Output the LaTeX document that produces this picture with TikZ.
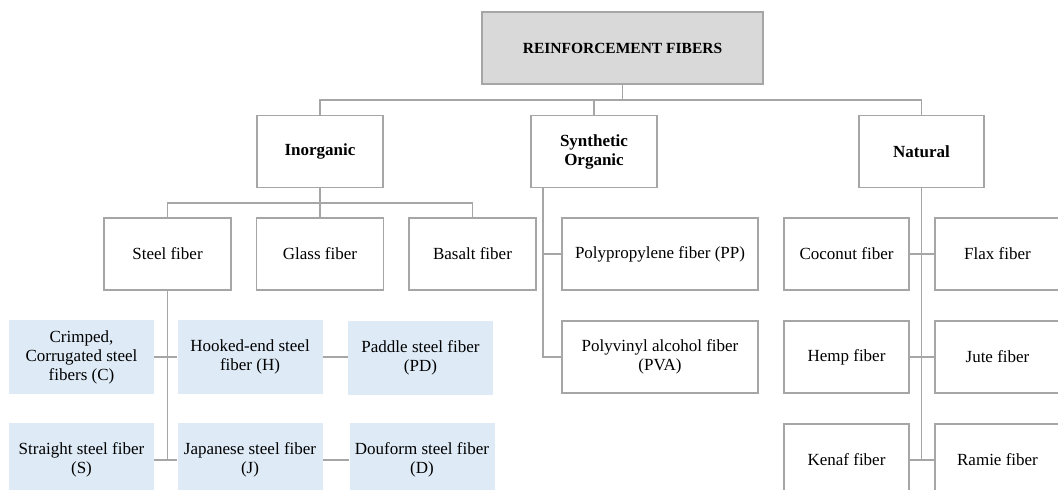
\documentclass[tikz,border=0pt]{standalone}
\usepackage{fontspec}
\setmainfont{Liberation Serif}
\definecolor{lineg}{HTML}{A6A6A6}
\definecolor{rootfill}{HTML}{D9D9D9}
\definecolor{bluefill}{HTML}{DEEBF7}
\begin{document}
\begin{tikzpicture}[x=1pt,y=-1pt,
  box/.style={draw=lineg,line width=1.3pt,fill=white,minimum height=72pt,inner sep=2pt,align=center,font=\fontsize{17}{19}\selectfont},
  catbox/.style={box,font=\fontsize{17}{19}\selectfont\bfseries},
  rootbox/.style={box,fill=rootfill,font=\fontsize{15.5}{18}\selectfont\bfseries},
  bluebox/.style={draw=none,fill=bluefill,minimum width=145pt,minimum height=74pt,inner sep=2pt,align=center,font=\fontsize{17}{19}\selectfont},
  conn/.style={draw=lineg,line width=1.3pt}]
\useasboundingbox (0,0) rectangle (1058,490);
% nodes
\node[rootbox,minimum width=281pt] (root) at (622.5,48) {REINFORCEMENT FIBERS};
\node[catbox,minimum width=126pt] (inorg) at (320,151.5) {Inorganic};
\node[catbox,minimum width=126pt] (synth) at (594,151.5) {Synthetic\\Organic};
\node[catbox,minimum width=125pt] (nat) at (921.5,151.5) {Natural};
\node[box,minimum width=127pt] (steel) at (167.5,254) {Steel fiber};
\node[box,minimum width=127pt] (glass) at (320,254) {Glass fiber};
\node[box,minimum width=127pt] (basalt) at (472.5,254) {Basalt fiber};
\node[box,minimum width=196pt] (pp) at (660,254) {Polypropylene fiber (PP)};
\node[box,minimum width=196pt] (pva) at (660,357) {Polyvinyl alcohol fiber\\(PVA)};
\node[box,minimum width=125pt] (coco) at (846.5,254) {Coconut fiber};
\node[box,minimum width=125pt] (flax) at (997.5,254) {Flax fiber};
\node[box,minimum width=125pt] (hemp) at (846.5,357) {Hemp fiber};
\node[box,minimum width=125pt] (jute) at (997.5,357) {Jute fiber};
\node[box,minimum width=125pt] (kenaf) at (846.5,460) {Kenaf fiber};
\node[box,minimum width=125pt] (ramie) at (997.5,460) {Ramie fiber};
\node[bluebox] (crimp) at (81.5,357) {Crimped,\\Corrugated steel\\fibers (C)};
\node[bluebox] (hook) at (250,357) {Hooked-end steel\\fiber (H)};
\node[bluebox] (paddle) at (420.5,358) {Paddle steel fiber\\(PD)};
\node[bluebox] (straight) at (81.5,460) {Straight steel fiber\\(S)};
\node[bluebox] (jap) at (250,460) {Japanese steel fiber\\(J)};
\node[bluebox] (douf) at (422,460) {Douform steel fiber\\(D)};
% coordinates
\coordinate (rbus) at (622.5,100);
\coordinate (ibus) at (320,203);
\coordinate (sx) at (543,187);
\coordinate (send) at (543,357);
\coordinate (nend) at (921.5,460);
\coordinate (stend) at (166,460);
% connectors
\draw[conn] (root.south) -- (rbus);
\draw[conn] (inorg.north) |- (rbus) -| (nat.north);
\draw[conn] (synth.north) -- (synth.north |- rbus);
\draw[conn] (inorg.south) -- (ibus);
\draw[conn] (steel.north) |- (ibus) -| (basalt.north);
\draw[conn] (glass.north) -- (ibus);
\draw[conn] (sx) -- (send) -- (pva.west);
\draw[conn] (sx |- pp.west) -- (pp.west);
\draw[conn] (nat.south) -- (nend);
\draw[conn] (coco.east) -- (flax.west);
\draw[conn] (hemp.east) -- (jute.west);
\draw[conn] (kenaf.east) -- (ramie.west);
\draw[conn] (steel.south) -- (steel.south |- stend);
\draw[conn] (crimp.east) -- (hook.west);
\draw[conn] (straight.east) -- (jap.west);
\draw[conn] (hook.east) -- (hook.east -| paddle.west);
\draw[conn] (jap.east) -- (jap.east -| douf.west);
\end{tikzpicture}
\end{document}
